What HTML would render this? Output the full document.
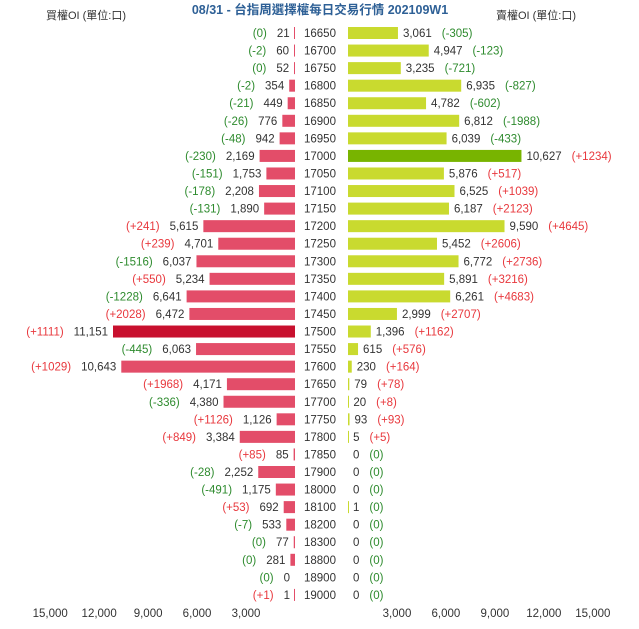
<!DOCTYPE html>
<html><head><meta charset="utf-8"><style>
body{margin:0;background:#fff;}
svg text{font-family:"Liberation Sans","Noto Sans CJK TC",sans-serif;}
</style></head><body>
<svg id="c" width="639" height="624">
<text x="320" y="14" text-anchor="middle" font-size="12.5" font-weight="bold" fill="#2e6096">08/31 - 台指周選擇權每日交易行情 202109W1</text>
<text x="86" y="19" text-anchor="middle" font-size="11" fill="#333">買權OI (單位:口)</text>
<text x="536" y="19" text-anchor="middle" font-size="11" fill="#333">賣權OI (單位:口)</text>
<g id="g"></g>
</svg>
<script>
const strikes=[16650,16700,16750,16800,16850,16900,16950,17000,17050,17100,17150,17200,17250,17300,17350,17400,17450,17500,17550,17600,17650,17700,17750,17800,17850,17900,18000,18100,18200,18300,18800,18900,19000];
const callOI=[21,60,52,354,449,776,942,2169,1753,2208,1890,5615,4701,6037,5234,6641,6472,11151,6063,10643,4171,4380,1126,3384,85,2252,1175,692,533,77,281,0,1];
const callChg=[0,-2,0,-2,-21,-26,-48,-230,-151,-178,-131,241,239,-1516,550,-1228,2028,1111,-445,1029,1968,-336,1126,849,85,-28,-491,53,-7,0,0,0,1];
const putOI=[3061,4947,3235,6935,4782,6812,6039,10627,5876,6525,6187,9590,5452,6772,5891,6261,2999,1396,615,230,79,20,93,5,0,0,0,1,0,0,0,0,0];
const putChg=[-305,-123,-721,-827,-602,-1988,-433,1234,517,1039,2123,4645,2606,2736,3216,4683,2707,1162,576,164,78,8,93,5,0,0,0,0,0,0,0,0,0];
const ticks=[3000,6000,9000,12000,15000];
const NS="http://www.w3.org/2000/svg";
const g=document.getElementById('g');
const L0=295,R0=348,K=182/11151,Y0=33,DY=17.56,BH=12;
const xl=v=>L0-v*K, xr=v=>R0+v*K, yc=i=>Y0+i*DY;
const fmt=v=>v.toLocaleString('en-US');
const chg=v=>v>0?'(+'+v+')':'('+v+')';
const cc=v=>v>0?'#e8383d':'#2e8b2e';
function mk(t,a){const e=document.createElementNS(NS,t);for(const k in a)e.setAttribute(k,a[k]);g.appendChild(e);return e;}
const cmax=Math.max(...callOI),pmax=Math.max(...putOI);
strikes.forEach((s,i)=>{
  const y=yc(i);
  let w=callOI[i]*K;
  let r=mk('rect',{x:L0-Math.max(w,1),y:y-BH/2,width:Math.max(w,1),height:BH,fill:callOI[i]===cmax?'#c8102e':'#e34d69'});
  
  
  if(callOI[i]===0)r.setAttribute('fill-opacity','0');
  let t=mk('text',{x:xl(callOI[i])-5,y:y+4,'text-anchor':'end','font-size':'11.5',fill:'#333'});
  
  
  t.innerHTML='<tspan fill="'+cc(callChg[i])+'">'+chg(callChg[i])+'</tspan><tspan dx="10">'+fmt(callOI[i])+'</tspan>';
  let st=mk('text',{x:320,y:y+4,'text-anchor':'middle','font-size':'11.5',fill:'#333'});
  
  
  st.textContent=s;
  w=putOI[i]*K;
  if(putOI[i]>0){
    let p=mk('rect',{x:R0,y:y-BH/2,width:Math.max(w,1),height:BH,fill:putOI[i]===pmax?'#78b400':'#c9da2f'});
    
    
  }
  let pt=mk('text',{x:xr(putOI[i])+5,y:y+4,'font-size':'11.5',fill:'#333'});
  
  
  pt.innerHTML='<tspan>'+fmt(putOI[i])+'</tspan><tspan dx="10" fill="'+cc(putChg[i])+'">'+chg(putChg[i])+'</tspan>';
});
ticks.forEach(v=>{
  let a=mk('text',{x:xl(v),y:617,'text-anchor':'middle','font-size':'11.5',fill:'#333'});
  
  
  a.textContent=fmt(v);
  let b=mk('text',{x:xr(v),y:617,'text-anchor':'middle','font-size':'11.5',fill:'#333'});
  
  
  b.textContent=fmt(v);
});
</script>
</body></html>
